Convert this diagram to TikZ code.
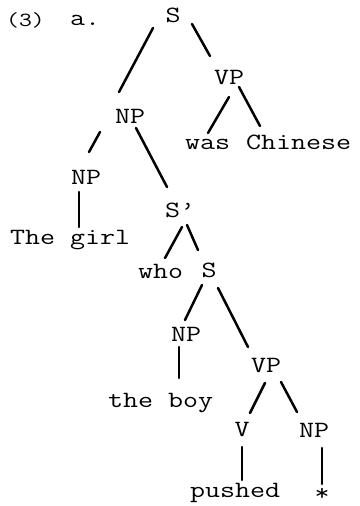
\documentclass[tikz,border=0pt]{standalone}
\usepackage{fontspec}
\setmainfont{Latin Modern Mono}[FakeStretch=1.25]
\usetikzlibrary{calc}
\begin{document}
\begin{tikzpicture}[x=1pt,y=-1pt,
  lab/.style={inner sep=0pt, font=\fontsize{23.3}{28}\selectfont},
  cat/.style={lab, anchor=base},
  word/.style={lab, anchor=base west},
  branch/.style={line width=2.5pt, line cap=round}]
\useasboundingbox (0,0) rectangle (359,506);
% numbering
\node[word, font=\fontsize{20}{24}\selectfont] (num) at (6,27) {(3)};
\node[word] (a) at (70,25) {a.};
% categories
\node[cat] (S)   at (173,23)  {S};
\node[cat] (NP1) at (130,123) {NP};
\node[cat] (VP1) at (229,84)  {VP};
\node[cat] (NP2) at (86,184)  {NP};
\node[cat] (Sp)  at (180,217) {S'};
\node[cat] (S2)  at (209,277) {S};
\node[cat] (NP3) at (186,341) {NP};
\node[cat] (VP2) at (266,372) {VP};
\node[cat] (V)   at (242,436) {V};
\node[cat] (NP4) at (314,437) {NP};
% words
\node[word] (was) at (185,149) {was};
\node[word] (chinese) at (246,149) {Chinese};
\node[word] (girl) at (10,244) {The girl};
\node[word] (who) at (138,278) {who};
\node[word] (boy) at (108,407) {the boy};
\node[word] (pushed) at (190,497) {pushed};
\node[lab] (star) at (322,494) {*};
% branches
\draw[branch] ($(S.base)+(-20,5)$) -- ($(NP1.base)+(-11,-31)$);
\draw[branch] ($(S.base)+(19,1)$) -- ($(VP1.base)+(-19,-28)$);
\draw[branch] ($(VP1.base)+(0,13)$) -- ($(was.base west)+(23,-16)$);
\draw[branch] ($(VP1.base)+(10,3)$) -- ($(chinese.base west)+(14,-23)$);
\draw[branch] ($(NP1.base)+(-30,9)$) -- ($(NP2.base)+(3,-32)$);
\draw[branch] ($(NP1.base)+(6,5)$) -- ($(Sp.base)+(-13,-30)$);
\draw[branch] ($(NP2.base)+(-7,8)$) -- ($(girl.base west)+(69,-17)$);
\draw[branch] ($(Sp.base)+(2,10)$) -- ($(who.base west)+(27,-20)$);
\draw[branch] ($(Sp.base)+(7,8)$) -- ($(S2.base)+(-11,-27)$);
\draw[branch] ($(S2.base)+(-7,8)$) -- ($(NP3.base)+(-1,-21)$);
\draw[branch] ($(S2.base)+(9,11)$) -- ($(VP2.base)+(-18,-25)$);
\draw[branch] ($(NP3.base)+(-7,6)$) -- ($(boy.base west)+(71,-29)$);
\draw[branch] ($(VP2.base)+(-1,11)$) -- ($(V.base)+(8,-23)$);
\draw[branch] ($(VP2.base)+(15,10)$) -- ($(NP4.base)+(-17,-25)$);
\draw[branch] ($(V.base)+(0,11)$) -- ($(pushed.base west)+(52,-17)$);
\draw[branch] ($(NP4.base)+(8,11)$) -- ($(star.center)+(0,-10)$);
\end{tikzpicture}
\end{document}
